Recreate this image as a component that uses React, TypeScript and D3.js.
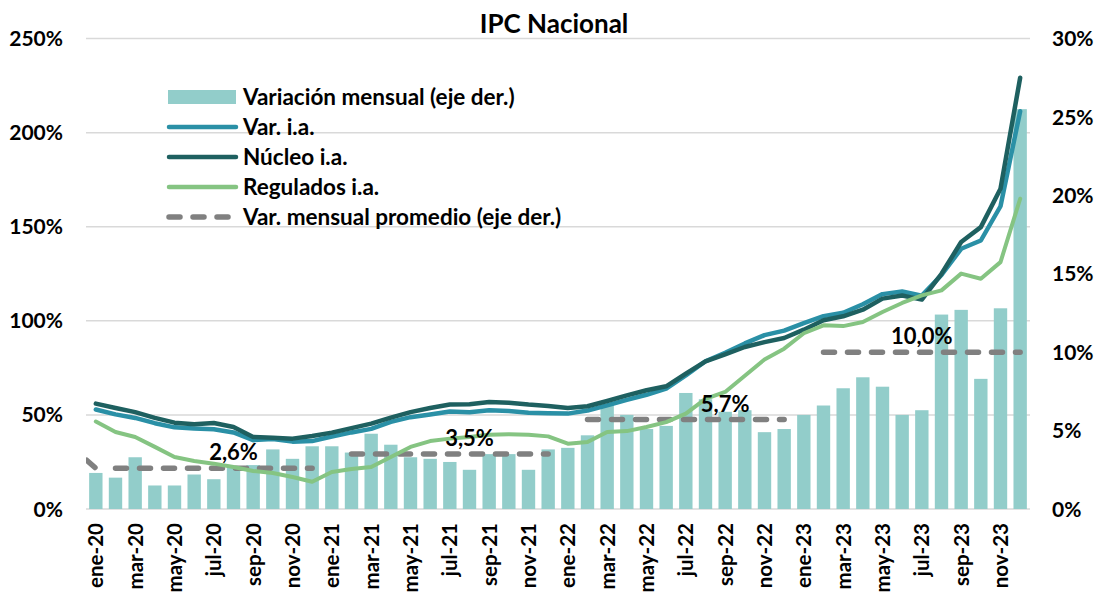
import React, { useEffect, useRef } from 'react';
import * as d3 from 'd3';

// meses ene-20 .. dic-23
const monthNames = ['ene', 'feb', 'mar', 'abr', 'may', 'jun', 'jul', 'ago', 'sep', 'oct', 'nov', 'dic'];
const years = ['20', '21', '22', '23'];
const months: string[] = years.flatMap(y => monthNames.map(m => `${m}-${y}`));

// Variación mensual (eje der.)
const varMensual = [
  2.3, 2.0, 3.3, 1.5, 1.5, 2.2, 1.9, 2.7, 2.8, 3.8, 3.2, 4.0,
  4.0, 3.6, 4.8, 4.1, 3.3, 3.2, 3.0, 2.5, 3.5, 3.5, 2.5, 3.8,
  3.9, 4.7, 6.7, 6.0, 5.1, 5.3, 7.4, 7.0, 6.2, 6.3, 4.9, 5.1,
  6.0, 6.6, 7.7, 8.4, 7.8, 6.0, 6.3, 12.4, 12.7, 8.3, 12.8, 25.5,
];

// Var. i.a.
const varIA = [
  52.9, 50.3, 48.4, 45.6, 43.4, 42.8, 42.4, 40.7, 36.6, 37.2, 35.8, 36.1,
  38.5, 40.7, 42.6, 46.3, 48.8, 50.2, 51.8, 51.4, 52.5, 52.1, 51.2, 50.9,
  50.7, 52.3, 55.1, 58.0, 60.7, 64.0, 71.0, 78.5, 83.0, 88.0, 92.4, 94.8,
  98.8, 102.5, 104.3, 108.8, 114.2, 115.6, 113.4, 124.4, 138.3, 142.7, 160.9, 211.4,
];

// Núcleo i.a.
const nucleoIA = [
  56.0, 53.7, 51.5, 48.4, 45.9, 45.0, 45.7, 43.6, 38.3, 37.9, 37.4, 38.8,
  40.6, 43.0, 45.4, 48.6, 51.5, 53.7, 55.5, 55.7, 56.9, 56.5, 55.5, 54.8,
  53.7, 54.6, 57.4, 60.4, 63.1, 65.2, 71.9, 78.5, 82.2, 86.1, 88.7, 90.9,
  95.3, 100.3, 102.4, 105.9, 111.8, 113.5, 111.3, 125.0, 141.9, 149.8, 170.2, 229.2,
];

// Regulados i.a.
const reguladosIA = [
  46.5, 40.9, 38.3, 33.0, 27.6, 25.5, 24.1, 22.3, 20.2, 19.1, 17.0, 14.5,
  19.7, 21.3, 22.3, 27.6, 33.0, 36.1, 37.4, 38.3, 39.5, 39.7, 39.5, 38.6,
  34.7, 35.6, 40.9, 41.4, 43.6, 46.2, 50.7, 58.5, 62.2, 70.8, 79.5, 85.2,
  93.4, 97.6, 97.2, 99.4, 104.7, 109.5, 113.5, 116.2, 125.1, 122.4, 131.2, 164.9,
];

// Var. mensual promedio por año (eje der.), de feb a dic
const promedioAnual = [2.6, 3.5, 5.7, 10.0];
const promedioLabels = ['2,6%', '3,5%', '5,7%', '10,0%'];
const promedioLabelMonth = ['ago-20', 'ago-21', 'sep-22', 'jul-23'];
// tramo que llega desde dic-19
const promedioPrevio = 3.7;

const leftTicks = [0, 50, 100, 150, 200, 250];
const rightTicks = [0, 5, 10, 15, 20, 25, 30];

const legendItems = [
  { label: 'Variación mensual (eje der.)', type: 'bar', color: '#92CDCA' },
  { label: 'Var. i.a.', type: 'line', color: '#2A90A6' },
  { label: 'Núcleo i.a.', type: 'line', color: '#1E6060' },
  { label: 'Regulados i.a.', type: 'line', color: '#85C482' },
  { label: 'Var. mensual promedio (eje der.)', type: 'dash', color: '#808080' },
];

const FONT = 'Lato, "Open Sans", sans-serif';

function App() {
  const ref = useRef<SVGSVGElement>(null);

  useEffect(() => {
    const svg = d3.select(ref.current);
    svg.selectAll('*').remove();

    const width = 1097;
    const height = 595;
    const left = 86, right = 1030, top = 38.6, bottom = 509;

    svg.attr('width', width).attr('height', height);

    const x = d3.scaleBand<string>().domain(months).range([left, right]).paddingInner(0.32).paddingOuter(0.16);
    const step = x.step();
    const cx = (i: number) => left + step * (i + 0.5);
    const yL = d3.scaleLinear().domain([0, 250]).range([bottom, top]);
    const yR = d3.scaleLinear().domain([0, 30]).range([bottom, top]);

    svg.append('defs').append('clipPath').attr('id', 'plot-clip')
      .append('rect').attr('x', left).attr('y', 0).attr('width', right - left).attr('height', height);

    // gridlines
    svg.append('g').selectAll('line').data(leftTicks).enter().append('line')
      .attr('x1', left).attr('x2', right)
      .attr('y1', d => yL(d)).attr('y2', d => yL(d))
      .attr('stroke', '#d9d9d9').attr('stroke-width', 1.5);

    // title
    svg.append('text').attr('x', 554).attr('y', 33).attr('text-anchor', 'middle')
      .style('font-family', FONT).style('font-weight', 700).style('font-size', '26px')
      .text('IPC Nacional');

    // bars
    svg.append('g').selectAll('rect').data(varMensual).enter().append('rect')
      .attr('x', (d, i) => x(months[i]) as number)
      .attr('width', x.bandwidth())
      .attr('y', d => yR(d))
      .attr('height', d => yR(0) - yR(d))
      .attr('fill', '#92CDCA');

    // promedio anual, dashed
    const dashG = svg.append('g').attr('clip-path', 'url(#plot-clip)');
    const dashLine = d3.line<[number, number]>().x(d => cx(d[0])).y(d => yR(d[1]));
    promedioAnual.forEach((v, k) => {
      const pts: [number, number][] = d3.range(k * 12 + 1, k * 12 + 12).map(i => [i, v]);
      dashG.append('path').attr('d', dashLine(pts))
        .attr('fill', 'none').attr('stroke', '#808080').attr('stroke-width', 5.5)
        .attr('stroke-dasharray', '11 13').attr('stroke-linecap', 'round');
    });
    dashG.append('path').attr('d', dashLine([[-1, promedioPrevio], [0, promedioAnual[0]]]))
      .attr('fill', 'none').attr('stroke', '#808080').attr('stroke-width', 5.5)
      .attr('stroke-dasharray', '11 13').attr('stroke-dashoffset', 10).attr('stroke-linecap', 'round');

    // lines
    const series = [
      { values: varIA, color: '#2A90A6', w: 4.5 },
      { values: nucleoIA, color: '#1E6060', w: 4.5 },
      { values: reguladosIA, color: '#85C482', w: 4 },
    ];
    const line = d3.line<number>().x((d, i) => cx(i)).y(d => yL(d));
    series.forEach(s => {
      svg.append('path').attr('d', line(s.values))
        .attr('fill', 'none').attr('stroke', s.color).attr('stroke-width', s.w)
        .attr('stroke-linejoin', 'round').attr('stroke-linecap', 'round');
    });

    // promedio labels
    svg.append('g').selectAll('text').data(promedioAnual).enter().append('text')
      .attr('x', (d, k) => (x(promedioLabelMonth[k]) as number) + x.bandwidth() / 2)
      .attr('y', d => yR(d) - 8)
      .attr('text-anchor', 'middle')
      .style('font-family', FONT).style('font-weight', 700).style('font-size', '22px')
      .text((d, k) => promedioLabels[k]);

    // left axis
    svg.append('g').selectAll('text').data(leftTicks).enter().append('text')
      .attr('x', 63).attr('y', d => yL(d)).attr('dy', '0.36em').attr('text-anchor', 'end')
      .style('font-family', FONT).style('font-weight', 700).style('font-size', '21px')
      .text(d => `${d}%`);

    // right axis
    svg.append('g').selectAll('text').data(rightTicks).enter().append('text')
      .attr('x', 1052).attr('y', d => yR(d)).attr('dy', '0.36em').attr('text-anchor', 'start')
      .style('font-family', FONT).style('font-weight', 700).style('font-size', '21px')
      .text(d => `${d}%`);

    // x axis labels, every other month
    const xLabels = months.filter((m, i) => i % 2 === 0);
    svg.append('g').selectAll('text').data(xLabels).enter().append('text')
      .attr('transform', d => `translate(${(x(d) as number) + x.bandwidth() / 2}, 523) rotate(-90)`)
      .attr('text-anchor', 'end').attr('dy', '0.36em')
      .style('font-family', FONT).style('font-weight', 700).style('font-size', '20.5px')
      .text(d => d);

    // legend
    const lg = svg.append('g');
    legendItems.forEach((item, k) => {
      const cy = 97 + k * 30;
      if (item.type === 'bar') {
        lg.append('rect').attr('x', 168).attr('y', cy - 7).attr('width', 68).attr('height', 14).attr('fill', item.color);
      } else if (item.type === 'line') {
        lg.append('line').attr('x1', 169).attr('x2', 236).attr('y1', cy).attr('y2', cy)
          .attr('stroke', item.color).attr('stroke-width', 4.5).attr('stroke-linecap', 'round');
      } else {
        lg.append('line').attr('x1', 169).attr('x2', 236).attr('y1', cy).attr('y2', cy)
          .attr('stroke', item.color).attr('stroke-width', 5.5).attr('stroke-linecap', 'round')
          .attr('stroke-dasharray', '11 13');
      }
      lg.append('text').attr('x', 243).attr('y', cy).attr('dy', '0.36em')
        .style('font-family', FONT).style('font-weight', 700).style('font-size', '22.5px')
        .text(item.label);
    });
  }, []);

  return <svg ref={ref} style={{ position: 'absolute', left: 0, top: 0 }}></svg>;
}

export default App;
